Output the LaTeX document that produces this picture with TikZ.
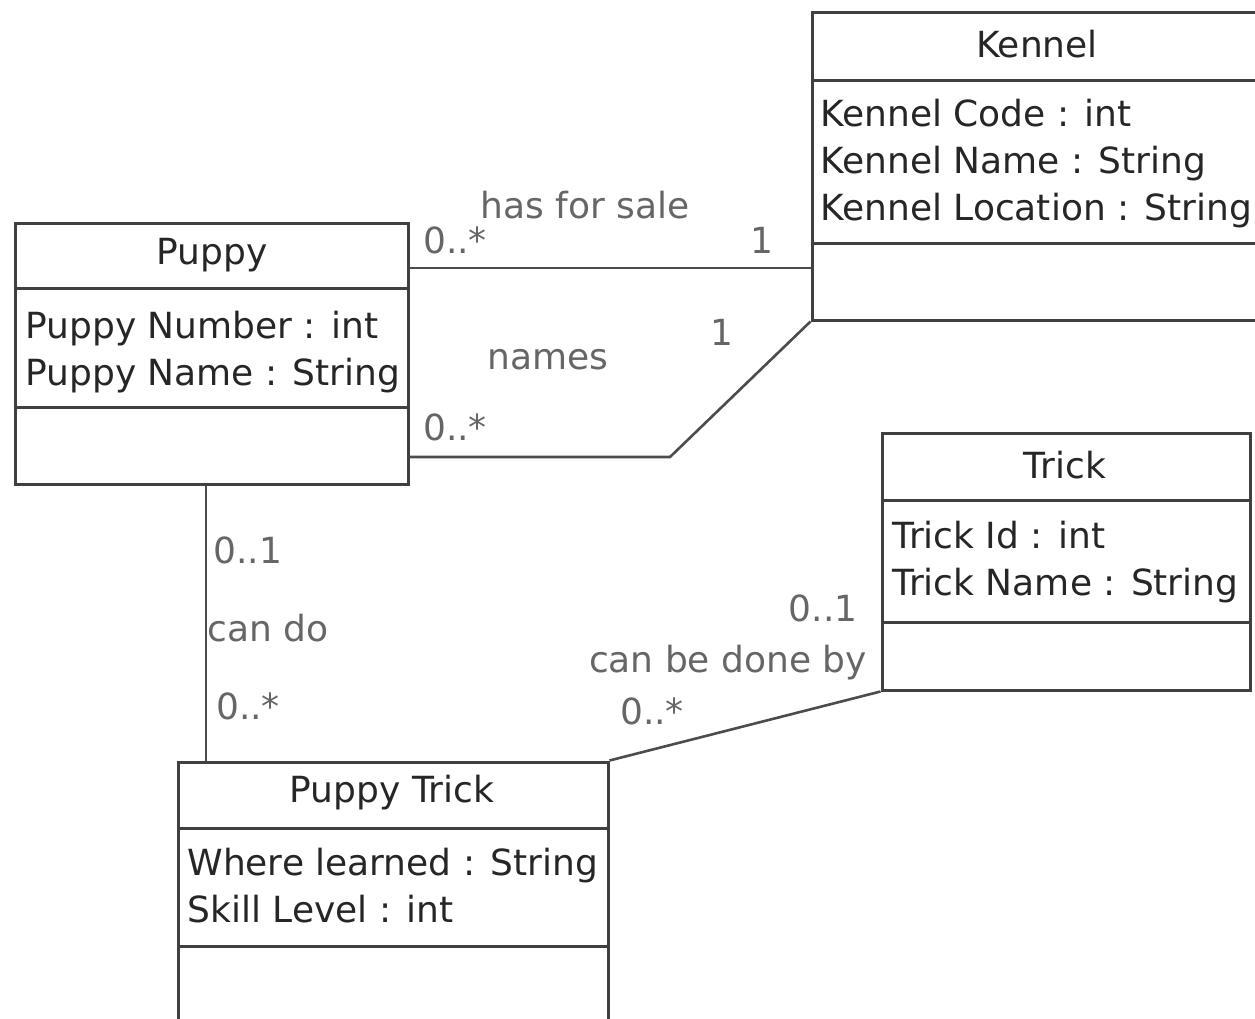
\documentclass[tikz,border=0pt]{standalone}
\usepackage{fontspec}
\setmainfont{DejaVu Sans}
\begin{document}
\begin{tikzpicture}[x=0.5pt,y=-0.5pt,
  frame/.style={draw=black!75,line width=1.5pt},
  classbox/.style={frame,rectangle,inner sep=0pt},
  classname/.style={inner sep=0pt,text=black!85,font=\fontsize{18}{22}\selectfont},
  attr/.style={anchor=base west,inner sep=0pt,text=black!85,font=\fontsize{18}{22}\selectfont},
  assoc/.style={draw=black!70,line width=1.3pt},
  lbl/.style={inner sep=0pt,text=black!60,font=\fontsize{18}{22}\selectfont}]

  \path[use as bounding box,clip] (0,0) rectangle (1255,1019);

  % class boxes
  \node[classbox,minimum width=196.5pt,minimum height=130.5pt] (puppy) at (211.5,353.5) {};
  \node[classbox,minimum width=225pt,minimum height=154pt] (kennel) at (1037,166) {};
  \node[classbox,minimum width=184pt,minimum height=128.5pt] (trick) at (1066,561.5) {};
  \node[classbox,minimum width=215pt,minimum height=131.5pt] (puptrick) at (393,893.5) {};

  % compartments
  \draw[frame] (puppy.west |- 0,288) -- (puppy.east |- 0,288);
  \draw[frame] (puppy.west |- 0,407) -- (puppy.east |- 0,407);
  \draw[frame] (kennel.west |- 0,80) -- (kennel.east |- 0,80);
  \draw[frame] (kennel.west |- 0,243) -- (kennel.east |- 0,243);
  \draw[frame] (trick.west |- 0,500) -- (trick.east |- 0,500);
  \draw[frame] (trick.west |- 0,622) -- (trick.east |- 0,622);
  \draw[frame] (puptrick.west |- 0,828) -- (puptrick.east |- 0,828);
  \draw[frame] (puptrick.west |- 0,946) -- (puptrick.east |- 0,946);

  % names and attributes
  \node[classname] (puppyname) at (212,255) {Puppy};
  \node[attr] (puppynum) at (25,338) {Puppy Number : int};
  \node[attr] (puppynm) at (25,385) {Puppy Name : String};

  \node[classname] (kennelname) at (1037,44) {Kennel};
  \node[attr] (kennelcode) at (820,126) {Kennel Code : int};
  \node[attr] (kennelnm) at (820,173) {Kennel Name : String};
  \node[attr] (kennelloc) at (820,220) {Kennel Location : String};

  \node[classname] (trickname) at (1065,465) {Trick};
  \node[attr] (trickid) at (892,548) {Trick Id : int};
  \node[attr] (tricknm) at (892,595) {Trick Name : String};

  \node[classname] (puptrickname) at (392,793) {Puppy Trick};
  \node[attr] (puptrickwhere) at (187,875) {Where learned : String};
  \node[attr] (puptrickskill) at (187,922) {Skill Level : int};

  % associations
  \draw[assoc] (puppy.east |- 0,268) -- (kennel.west |- 0,268);
  \draw[assoc] (puppy.east |- 0,457) -- (670,457) -- (kennel.south west);
  \draw[assoc] (puppy.south -| 206,0) -- (puptrick.north -| 206,0);
  \draw[assoc] (puptrick.north east) -- (trick.south west);

  % association labels
  \node[lbl] (hasforsale) at (585,205) {has for sale};
  \node[lbl] (hfsfrom) at (455,240) {0..*};
  \node[lbl] (hfsto) at (762,240) {1};
  \node[lbl] (names) at (548,360) {names};
  \node[lbl] (namesfrom) at (455,427) {0..*};
  \node[lbl] (namesto) at (722,332) {1};
  \node[lbl] (candofrom) at (248,550) {0..1};
  \node[lbl] (cando) at (268,628) {can do};
  \node[lbl] (candoto) at (248,706) {0..*};
  \node[lbl] (donebyfrom) at (823,608) {0..1};
  \node[lbl] (doneby) at (728,663) {can be done by};
  \node[lbl] (donebyto) at (652,711) {0..*};
\end{tikzpicture}
\end{document}
